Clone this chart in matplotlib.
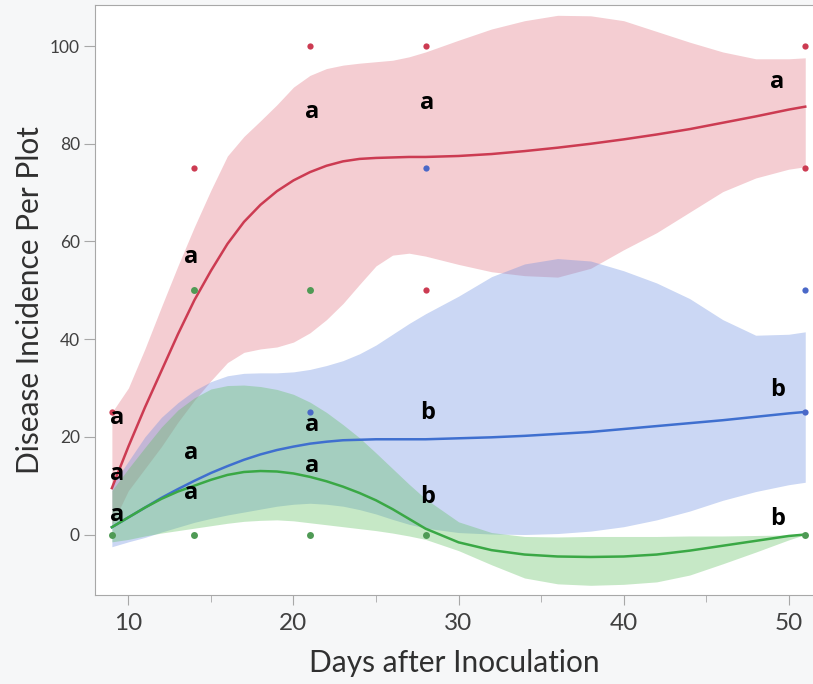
import numpy as np
import matplotlib
matplotlib.use('Agg')
import matplotlib.pyplot as plt
from matplotlib.ticker import MultipleLocator

# --- data ---
days = [9, 10, 11, 12, 13, 14, 15, 16, 17, 18, 19, 20, 21, 22, 23, 24, 25, 26, 27, 28,
        30, 32, 34, 36, 38, 40, 42, 44, 46, 48, 50, 51]

red_fit = [9.5, 18, 26, 33.5, 41, 48, 54, 59.5, 64, 67.5, 70.3, 72.5, 74.2, 75.5, 76.4, 76.9, 77.1, 77.2, 77.3, 77.3,
           77.5, 77.9, 78.5, 79.2, 80, 80.9, 81.9, 83, 84.3, 85.6, 87, 87.6]
red_hi = [25, 30, 38, 46.6, 55, 63, 70.5, 77.5, 81.5, 84.7, 88, 91.6, 94, 95.4, 96.1, 96.5, 96.8, 97.1, 97.8, 98.8,
          101.2, 103.5, 105.2, 106.3, 106.2, 105.2, 103, 100.8, 98.8, 97.4, 97.4, 97.6]
red_lo = [2, 9, 13.5, 18, 23, 27.5, 31.5, 35.2, 37.3, 38, 38.4, 39.4, 41.3, 44, 47.3, 51.2, 55, 57.2, 57.6, 57,
          55.3, 53.8, 53, 52.7, 54.5, 58.3, 61.8, 66, 70.2, 73, 74.8, 75.3]

blue_fit = [1.5, 3.5, 5.5, 7.5, 9.3, 11, 12.6, 14, 15.3, 16.4, 17.3, 18, 18.6, 19, 19.3, 19.4, 19.5, 19.5, 19.5, 19.5,
            19.7, 19.9, 20.2, 20.6, 21, 21.6, 22.2, 22.8, 23.4, 24.1, 24.8, 25.1]
blue_hi = [10, 15, 20, 24, 27, 29.5, 31.3, 32.5, 33, 33.1, 33.1, 33.3, 33.8, 34.6, 35.6, 37, 38.8, 41, 43.2, 45.2,
           48.8, 52.8, 55.4, 56.5, 56, 54, 51.5, 48.3, 44, 40.8, 41, 41.5]
blue_lo = [-2.5, -1.5, -0.6, 0.5, 1.5, 2.5, 3.3, 4, 4.6, 5.2, 5.8, 6.2, 6.4, 6.2, 5.8, 5.1, 4.2, 3.1, 2.1, 1.3,
           0.4, 0.1, 0, 0.2, 0.7, 1.6, 3, 4.8, 7, 8.8, 10.2, 10.7]

green_fit = [1.5, 3.5, 5.5, 7.3, 8.8, 10, 11.2, 12.2, 12.8, 13, 12.9, 12.5, 11.8, 10.9, 9.8, 8.5, 7, 5.2, 3.2, 1.2,
             -1.6, -3.2, -4.1, -4.5, -4.6, -4.5, -4.1, -3.3, -2.3, -1.3, -0.3, 0]
green_hi = [9, 13.5, 17.8, 22, 25.5, 28, 29.8, 30.5, 30.6, 30.3, 29.7, 28.7, 27.1, 25, 22.5, 19.8, 16.7, 13.5, 10.3, 7.3,
            2.6, 0.4, -0.4, -0.5, -0.4, -0.4, -0.4, -0.3, -0.3, -0.2, -0.1, 0.2]
green_lo = [-1.5, -1, -0.3, 0.3, 0.8, 1.3, 1.8, 2.3, 2.7, 2.9, 3, 2.8, 2.4, 2, 1.6, 1.2, 0.8, 0.3, -0.3, -1,
            -3.3, -6.2, -8.9, -10.1, -10.4, -10.2, -9.7, -8.3, -6, -3.6, -1.1, 0]

# observed plot values (visible dots)
red_x = [9, 14, 21, 28, 28, 51, 51]
red_y = [25, 75, 100, 100, 50, 100, 75]
blue_x = [21, 28, 51, 51]
blue_y = [25, 75, 50, 25]
green_x = [9, 14, 14, 21, 21, 28, 51]
green_y = [0, 50, 0, 50, 0, 0, 0]

# mean separation letters
letter_x = [9.3, 9.3, 9.3, 13.8, 13.8, 13.8, 21.1, 21.1, 21.1, 28.1, 28.1, 28.1, 49.3, 49.3, 49.3]
letter_y = [23.8, 12.4, 4.0, 56.8, 16.7, 8.5, 86.5, 22.4, 14.0, 88.4, 24.9, 7.7, 92.7, 29.6, 3.1]
letter_txt = ['a', 'a', 'a', 'a', 'a', 'a', 'a', 'a', 'a', 'a', 'b', 'b', 'a', 'b', 'b']

RED, BLUE, GREEN = '#cc3b52', '#3f6fcf', '#3aa845'
RED_FILL, BLUE_FILL, GREEN_FILL = '#e0707f', '#6a8de0', '#5cbf5c'

plt.rcParams['font.family'] = ['Lato', 'DejaVu Sans']

fig = plt.figure(figsize=(8.13, 6.84), dpi=100, facecolor='#f6f7f8')
ax = fig.add_axes([0.1169, 0.130, 0.8831, 0.8626])
ax.set_facecolor('white')

ax.fill_between(days, red_lo, red_hi, color=RED_FILL, alpha=0.35, lw=0)
ax.fill_between(days, blue_lo, blue_hi, color=BLUE_FILL, alpha=0.35, lw=0)
ax.fill_between(days, green_lo, green_hi, color=GREEN_FILL, alpha=0.35, lw=0)

ax.plot(days, red_fit, color=RED, lw=1.8)
ax.plot(days, blue_fit, color=BLUE, lw=1.8)
ax.plot(days, green_fit, color=GREEN, lw=1.8)

ax.plot(red_x, red_y, 'o', color=RED, ms=4.5, mec='none')
ax.plot(blue_x, blue_y, 'o', color='#4a68c8', ms=4.5, mec='none')
ax.plot(green_x, green_y, 'o', color='#4f9a55', ms=5, mec='none')

for lx, ly, t in zip(letter_x, letter_y, letter_txt):
    ax.text(lx, ly, t, ha='center', va='center', fontsize=17, fontweight='bold',
            family=['Open Sans', 'DejaVu Sans'], color='black')

ax.set_xlim(7.98, 51.47)
ax.set_ylim(-12.4, 108.4)
ax.xaxis.set_major_locator(MultipleLocator(10))
ax.xaxis.set_minor_locator(MultipleLocator(5))
ax.yaxis.set_major_locator(MultipleLocator(20))

for side in ['left', 'bottom', 'top']:
    ax.spines[side].set_color('#a8a8a8')
ax.spines['right'].set_visible(False)
ax.tick_params(axis='x', which='major', length=7, color='#a8a8a8', labelsize=17.5, labelcolor='#404040', pad=6)
ax.tick_params(axis='x', which='minor', length=5, color='#a8a8a8')
ax.tick_params(axis='y', which='major', length=8, color='#a8a8a8', labelsize=12.5, labelcolor='#404040', pad=3)

ax.set_xlabel('Days after Inoculation', fontsize=21.5, color='#303030', labelpad=11)
ax.set_ylabel('Disease Incidence Per Plot', fontsize=21.5, color='#303030', labelpad=4)

fig.savefig('out.png', dpi=100, facecolor=fig.get_facecolor())
